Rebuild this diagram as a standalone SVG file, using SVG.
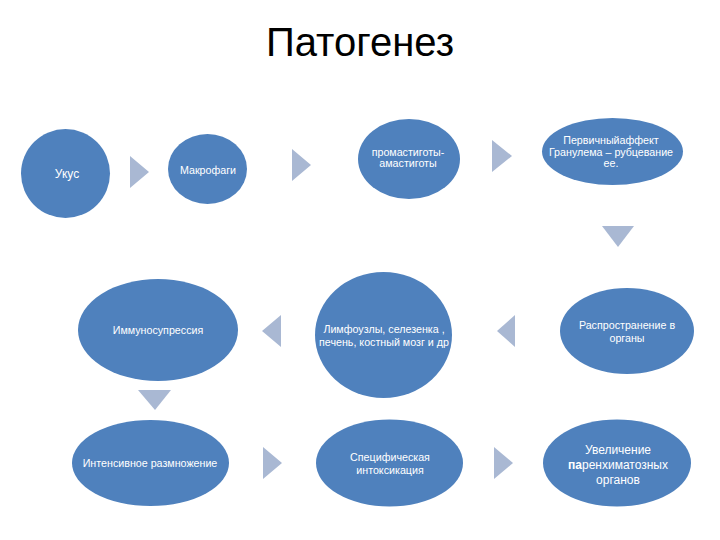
<svg xmlns="http://www.w3.org/2000/svg" width="720" height="540" viewBox="0 0 720 540">
<style>
.node{fill:#4f81bd}
.arr{fill:#a9b8d3}
.t{fill:#ffffff;font-family:"Liberation Sans",Arial,sans-serif;font-size:10.7px;text-anchor:middle}
.title{fill:#000000;font-family:"Liberation Sans",Arial,sans-serif;font-size:40px;text-anchor:middle}
</style>
<rect width="720" height="540" fill="#ffffff"/>
<text class="title" x="360" y="56">Патогенез</text>
<g id="connectors">
<polygon class="arr" points="130,156 149,172 130,188"/>
<polygon class="arr" points="292,149 311,165 292,181"/>
<polygon class="arr" points="492,140 512,156 492,172"/>
<polygon class="arr" points="602,226 634,226 618,247"/>
<polygon class="arr" points="515,315 497,331 515,347"/>
<polygon class="arr" points="281,315 262,331 281,347"/>
<polygon class="arr" points="138,390 171,390 155,410"/>
<polygon class="arr" points="263,447 282,463 263,479"/>
<polygon class="arr" points="494,447 513,463 494,479"/>
</g>
<g id="n1"><ellipse class="node" cx="65.5" cy="173.5" rx="44.5" ry="44.5"/><text class="t" x="67" y="178" style="font-size:12px">Укус</text></g>
<g id="n2"><ellipse class="node" cx="207.5" cy="169" rx="39.5" ry="35"/><text class="t" x="208" y="174">Макрофаги</text></g>
<g id="n3"><ellipse class="node" cx="409" cy="159" rx="51" ry="40"/><text class="t" x="408" y="156">промастиготы-</text><text class="t" x="408" y="167">амастиготы</text></g>
<g id="n4"><ellipse class="node" cx="612.5" cy="151.5" rx="70.5" ry="33.5"/><text class="t" x="611" y="144">Первичныйаффект</text><text class="t" x="611" y="156">Гранулема – рубцевание</text><text class="t" x="611" y="167">ее.</text></g>
<g id="n5"><ellipse class="node" cx="627" cy="331" rx="67" ry="43"/><text class="t" x="627" y="329">Распространение в</text><text class="t" x="627" y="342">органы</text></g>
<g id="n6"><ellipse class="node" cx="383.5" cy="335" rx="68.5" ry="63"/><text class="t" x="384" y="333">Лимфоузлы, селезенка ,</text><text class="t" x="384" y="346">печень, костный мозг и др</text></g>
<g id="n7"><ellipse class="node" cx="158" cy="330" rx="80" ry="51"/><text class="t" x="158" y="334">Иммуносупрессия</text></g>
<g id="n8"><ellipse class="node" cx="150.5" cy="463" rx="78.5" ry="43"/><text class="t" x="150" y="467">Интенсивное размножение</text></g>
<g id="n9"><ellipse class="node" cx="389.5" cy="463" rx="73.5" ry="43.5"/><text class="t" x="390" y="461">Специфическая</text><text class="t" x="390" y="474">интоксикация</text></g>
<g id="n10"><ellipse class="node" cx="617" cy="463" rx="74" ry="43.5"/><text class="t" x="618" y="454" style="font-size:12px">Увеличение</text><text class="t" x="618" y="469" style="font-size:12px"><tspan font-weight="bold">па</tspan>ренхиматозных</text><text class="t" x="618" y="484" style="font-size:12px">органов</text></g>
</svg>
